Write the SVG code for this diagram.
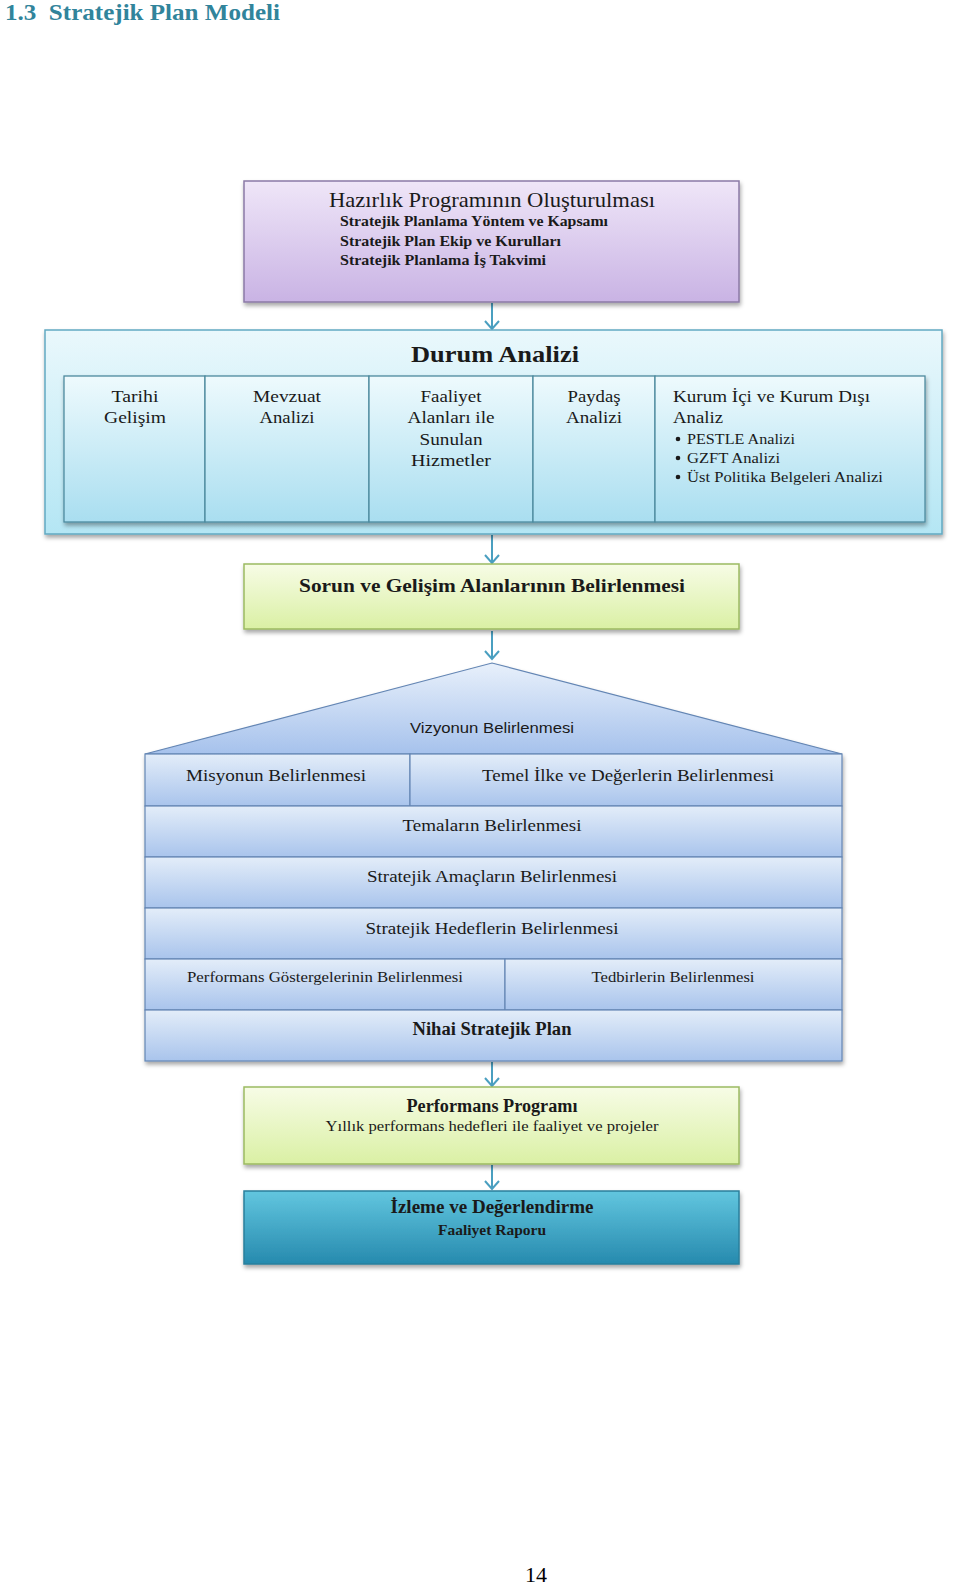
<svg xmlns="http://www.w3.org/2000/svg" width="960" height="1587" viewBox="0 0 960 1587">
<defs>
<linearGradient id="gPurple" x1="0" y1="0" x2="0" y2="1"><stop offset="0" stop-color="#efe6f8"/><stop offset="1" stop-color="#c9b3e4"/></linearGradient>
<linearGradient id="gCyan" x1="0" y1="0" x2="0" y2="1"><stop offset="0" stop-color="#eaf8fc"/><stop offset="1" stop-color="#b4e6f4"/></linearGradient>
<linearGradient id="gCyanIn" x1="0" y1="0" x2="0" y2="1"><stop offset="0" stop-color="#eefafd"/><stop offset="1" stop-color="#a9def0"/></linearGradient>
<linearGradient id="gGreen" x1="0" y1="0" x2="0" y2="1"><stop offset="0" stop-color="#f7fce6"/><stop offset="1" stop-color="#daf0a4"/></linearGradient>
<linearGradient id="gBlue" x1="0" y1="0" x2="0" y2="1"><stop offset="0" stop-color="#e3edf9"/><stop offset="1" stop-color="#a9c4ec"/></linearGradient>
<linearGradient id="gRoof" x1="0" y1="0" x2="0" y2="1"><stop offset="0" stop-color="#e8f0fb"/><stop offset="1" stop-color="#a6c2ec"/></linearGradient>
<linearGradient id="gTeal" x1="0" y1="0" x2="0" y2="1"><stop offset="0" stop-color="#62c6df"/><stop offset="1" stop-color="#268aae"/></linearGradient>
<filter id="sh" x="-5%" y="-10%" width="110%" height="125%"><feDropShadow dx="1" dy="3" stdDeviation="2" flood-color="#000" flood-opacity="0.35"/></filter>
</defs>
<style>
.ser{font-family:"Liberation Serif","DejaVu Serif",serif;fill:#1a1a1a;}
.san{font-family:"Liberation Sans","DejaVu Sans",sans-serif;fill:#1a1a1a;}
.mid{text-anchor:middle;}
.arr{stroke:#4a9fc0;stroke-width:2;fill:none;}
.row{fill:url(#gBlue);stroke:#6486b4;stroke-width:1.2;}
.col{fill:url(#gCyanIn);stroke:#4d8a9e;stroke-width:1.3;}
</style>
<rect width="960" height="1587" fill="#ffffff"/>
<text x="5" y="20" font-family="Liberation Serif, serif" font-weight="bold" font-size="23" fill="#31849b" xml:space="preserve" textLength="275" lengthAdjust="spacingAndGlyphs">1.3  Stratejik Plan Modeli</text>

<g id="connectors">
<path class="arr" d="M492,303 V329 M485,321 L492,329 L499,321"/>
<path class="arr" d="M492,535 V563 M485,555 L492,563 L499,555"/>
<path class="arr" d="M492,631 V659 M485,651 L492,659 L499,651"/>
<path class="arr" d="M492,1062 V1086 M485,1078 L492,1086 L499,1078"/>
<path class="arr" d="M492,1165 V1189 M485,1181 L492,1189 L499,1181"/>
</g>

<g id="hazirlik">
<rect x="244" y="181" width="495" height="121" fill="url(#gPurple)" stroke="#8b7aa6" stroke-width="1.5" filter="url(#sh)"/>
<text class="ser mid" x="492" y="207" font-size="21" textLength="326" lengthAdjust="spacingAndGlyphs">Hazırlık Programının Oluşturulması</text>
<text class="ser" x="340" y="226" font-size="15.5" font-weight="bold" textLength="268" lengthAdjust="spacingAndGlyphs">Stratejik Planlama Yöntem ve Kapsamı</text>
<text class="ser" x="340" y="245.5" font-size="15.5" font-weight="bold" textLength="221" lengthAdjust="spacingAndGlyphs">Stratejik Plan Ekip ve Kurulları</text>
<text class="ser" x="340" y="265" font-size="15.5" font-weight="bold" textLength="206" lengthAdjust="spacingAndGlyphs">Stratejik Planlama İş Takvimi</text>
</g>

<g id="durum">
<rect x="45" y="330" width="897" height="204" fill="url(#gCyan)" stroke="#62a9c2" stroke-width="1.5" filter="url(#sh)"/>
<text class="ser mid" x="495" y="362" font-size="23" font-weight="bold" textLength="168" lengthAdjust="spacingAndGlyphs">Durum Analizi</text>
<g filter="url(#sh)">
<rect class="col" x="64" y="376" width="141" height="146"/>
<rect class="col" x="205" y="376" width="164" height="146"/>
<rect class="col" x="369" y="376" width="164" height="146"/>
<rect class="col" x="533" y="376" width="122" height="146"/>
<rect class="col" x="655" y="376" width="270" height="146"/>
</g>
<g class="ser" font-size="17.5">
<text class="mid" x="135" y="402" textLength="47" lengthAdjust="spacingAndGlyphs">Tarihi</text>
<text class="mid" x="135" y="423" textLength="62" lengthAdjust="spacingAndGlyphs">Gelişim</text>
<text class="mid" x="287" y="402" textLength="68" lengthAdjust="spacingAndGlyphs">Mevzuat</text>
<text class="mid" x="287" y="423" textLength="55" lengthAdjust="spacingAndGlyphs">Analizi</text>
<text class="mid" x="451" y="402" textLength="61" lengthAdjust="spacingAndGlyphs">Faaliyet</text>
<text class="mid" x="451" y="423" textLength="87" lengthAdjust="spacingAndGlyphs">Alanları ile</text>
<text class="mid" x="451" y="445" textLength="63" lengthAdjust="spacingAndGlyphs">Sunulan</text>
<text class="mid" x="451" y="466" textLength="80" lengthAdjust="spacingAndGlyphs">Hizmetler</text>
<text class="mid" x="594" y="402" textLength="53" lengthAdjust="spacingAndGlyphs">Paydaş</text>
<text class="mid" x="594" y="423" textLength="56" lengthAdjust="spacingAndGlyphs">Analizi</text>
<text x="673" y="402" textLength="197" lengthAdjust="spacingAndGlyphs">Kurum İçi ve Kurum Dışı</text>
<text x="673" y="423" textLength="50" lengthAdjust="spacingAndGlyphs">Analiz</text>
</g>
<g class="ser" font-size="15.5">
<circle cx="678" cy="439" r="2.3" fill="#1a1a1a"/>
<text x="687" y="444" textLength="108" lengthAdjust="spacingAndGlyphs">PESTLE Analizi</text>
<circle cx="678" cy="458" r="2.3" fill="#1a1a1a"/>
<text x="687" y="463" textLength="93" lengthAdjust="spacingAndGlyphs">GZFT Analizi</text>
<circle cx="678" cy="477" r="2.3" fill="#1a1a1a"/>
<text x="687" y="482" textLength="196" lengthAdjust="spacingAndGlyphs">Üst Politika Belgeleri Analizi</text>
</g>
</g>

<g id="sorun">
<rect x="244" y="564" width="495" height="65" fill="url(#gGreen)" stroke="#9cba62" stroke-width="1.5" filter="url(#sh)"/>
<text class="ser mid" x="492" y="592" font-size="19.5" font-weight="bold" textLength="386" lengthAdjust="spacingAndGlyphs">Sorun ve Gelişim Alanlarının Belirlenmesi</text>
</g>

<g id="plan" filter="url(#sh)">
<path d="M145,754 L492,663 L842,754 Z" fill="url(#gRoof)" stroke="#6486b4" stroke-width="1.2"/>
<rect class="row" x="145" y="754" width="265" height="52"/>
<rect class="row" x="410" y="754" width="432" height="52"/>
<rect class="row" x="145" y="806" width="697" height="51"/>
<rect class="row" x="145" y="857" width="697" height="51"/>
<rect class="row" x="145" y="908" width="697" height="51"/>
<rect class="row" x="145" y="959" width="360" height="51"/>
<rect class="row" x="505" y="959" width="337" height="51"/>
<rect class="row" x="145" y="1010" width="697" height="51"/>
</g>
<g id="plan-text">
<text class="san mid" x="492" y="733" font-size="15" textLength="164" lengthAdjust="spacingAndGlyphs">Vizyonun Belirlenmesi</text>
<g class="ser mid" font-size="17.5">
<text x="276" y="781" textLength="180" lengthAdjust="spacingAndGlyphs">Misyonun Belirlenmesi</text>
<text x="628" y="781" textLength="292" lengthAdjust="spacingAndGlyphs">Temel İlke ve Değerlerin Belirlenmesi</text>
<text x="492" y="831" textLength="179" lengthAdjust="spacingAndGlyphs">Temaların Belirlenmesi</text>
<text x="492" y="882" textLength="250" lengthAdjust="spacingAndGlyphs">Stratejik Amaçların Belirlenmesi</text>
<text x="492" y="934" textLength="253" lengthAdjust="spacingAndGlyphs">Stratejik Hedeflerin Belirlenmesi</text>
<text x="325" y="982" font-size="15.5" textLength="276" lengthAdjust="spacingAndGlyphs">Performans Göstergelerinin Belirlenmesi</text>
<text x="673" y="982" font-size="15.5" textLength="163" lengthAdjust="spacingAndGlyphs">Tedbirlerin Belirlenmesi</text>
<text x="492" y="1035" font-size="18" font-weight="bold" textLength="159" lengthAdjust="spacingAndGlyphs">Nihai Stratejik Plan</text>
</g>
</g>

<g id="performans">
<rect x="244" y="1087" width="495" height="77" fill="url(#gGreen)" stroke="#9cba62" stroke-width="1.5" filter="url(#sh)"/>
<text class="ser mid" x="492" y="1112" font-size="18" font-weight="bold" textLength="171" lengthAdjust="spacingAndGlyphs">Performans Programı</text>
<text class="ser mid" x="492" y="1131" font-size="15.5" textLength="333" lengthAdjust="spacingAndGlyphs">Yıllık performans hedefleri ile faaliyet ve projeler</text>
</g>

<g id="izleme">
<rect x="244" y="1191" width="495" height="73" fill="url(#gTeal)" stroke="#2a7f9c" stroke-width="1.5" filter="url(#sh)"/>
<text class="ser mid" x="492" y="1213" font-size="18" font-weight="bold" fill="#14283c" textLength="203" lengthAdjust="spacingAndGlyphs">İzleme ve Değerlendirme</text>
<text class="ser mid" x="492" y="1235" font-size="15" font-weight="bold" textLength="108" lengthAdjust="spacingAndGlyphs">Faaliyet Raporu</text>
</g>

<text x="536" y="1582" text-anchor="middle" font-family="Liberation Serif, serif" font-size="22" fill="#000">14</text>
</svg>
